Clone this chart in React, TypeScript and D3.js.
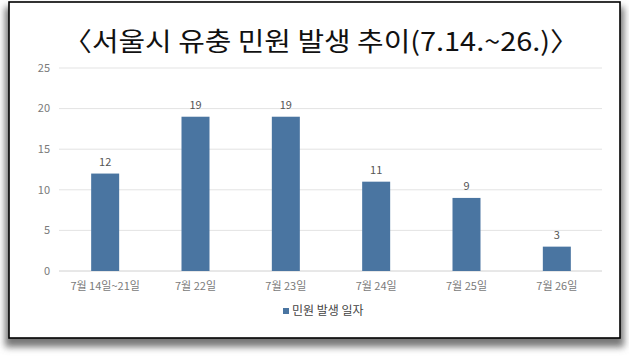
import React from "react";
import * as d3 from "d3";

const categories = ["7월 14일~21일", "7월 22일", "7월 23일", "7월 24일", "7월 25일", "7월 26일"];
const values = [12, 19, 19, 11, 9, 3];
const yTicks = [0, 5, 10, 15, 20, 25];
const title = "〈서울시 유충 민원 발생 추이(7.14.~26.)〉";
const legendLabel = "민원 발생 일자";

const W = 629;
const H = 356;
const BAR = "#4A75A1";
const FONT = "'Noto Sans CJK KR', 'Noto Sans', sans-serif";

export default function App() {
  const x = d3.scaleBand<string>().domain(categories).range([60, 602]).paddingInner(0.69).paddingOuter(0.345);
  const y = d3.scaleLinear().domain([0, 25]).range([271, 68]);

  return (
    <svg width={W} height={H} style={{ position: "absolute", left: 0, top: 0, background: "#fff" }}>
      <defs>
        <filter id="sh" x="-10%" y="-10%" width="120%" height="130%">
          <feGaussianBlur stdDeviation="3.5" />
        </filter>
      </defs>
      <rect x={5} y={7} width={619} height={340} fill="#777" filter="url(#sh)" />
      <rect x={9} y={2} width={611} height={336} fill="#fff" stroke="#000" strokeWidth={1.6} />
      <text x={321} y={51} textAnchor="middle" fontFamily={FONT} fontSize={26} fill="#111" textLength={516} lengthAdjust="spacingAndGlyphs">
        {title}
      </text>
      {yTicks.map((t) => (
        <g key={t}>
          <line x1={59} x2={602} y1={y(t)} y2={y(t)} stroke={t === 0 ? "#d0d0d0" : "#e3e3e3"} strokeWidth={1} />
          <text x={50} y={y(t)} dy="0.35em" textAnchor="end" fontFamily={FONT} fontSize={11} fill="#7a7a7a">
            {t}
          </text>
        </g>
      ))}
      {categories.map((c, i) => (
        <g key={c}>
          <rect x={x(c)} y={y(values[i])} width={x.bandwidth()} height={y(0) - y(values[i])} fill={BAR} />
          <text x={(x(c) as number) + x.bandwidth() / 2} y={y(values[i]) - 8} textAnchor="middle" fontFamily={FONT} fontSize={11} fill="#555">
            {values[i]}
          </text>
          <text x={(x(c) as number) + x.bandwidth() / 2} y={286} dy="0.35em" textAnchor="middle" fontFamily={FONT} fontSize={11} fill="#7a7a7a">
            {c}
          </text>
        </g>
      ))}
      <rect x={283} y={308} width={6} height={6} fill={BAR} />
      <text x={292} y={311} dy="0.35em" fontFamily={FONT} fontSize={12} fill="#444">
        {legendLabel}
      </text>
    </svg>
  );
}
